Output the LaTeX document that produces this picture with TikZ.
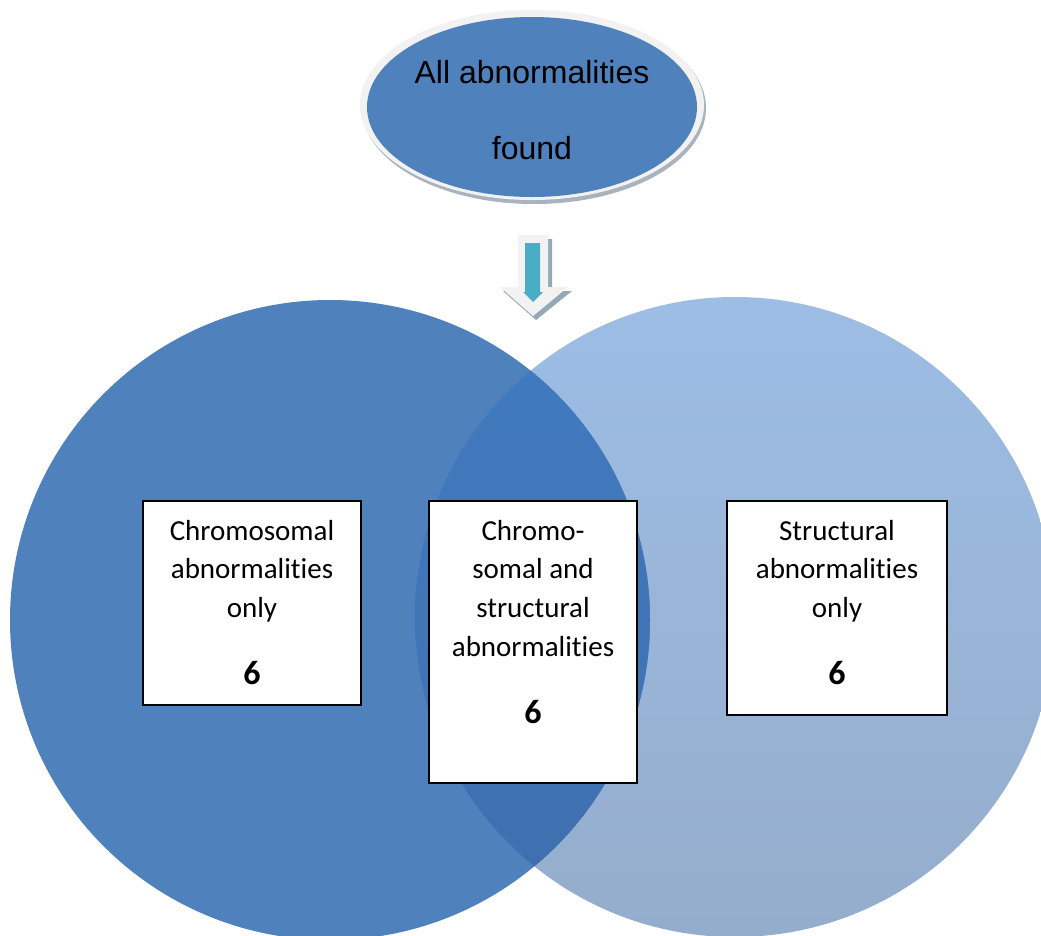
\documentclass[tikz,border=0pt]{standalone}
\usepackage{fontspec}
\usetikzlibrary{shapes.geometric}
\setmainfont[Ligatures=NoCommon]{Carlito}
\newfontfamily\arialfont{Liberation Sans}
\definecolor{leftblue}{HTML}{4F81BD}
\definecolor{righttop}{HTML}{9DBDE5}
\definecolor{rightbot}{HTML}{95ADCC}
\definecolor{ovtop}{HTML}{427BC1}
\definecolor{ovbot}{HTML}{3E6FAE}
\definecolor{ringcol}{HTML}{F2F2F2}
\definecolor{shadowcol}{HTML}{A9B3BD}
\definecolor{arrowteal}{HTML}{4BACC6}
\definecolor{arrowshadow}{HTML}{93AAB6}
\begin{document}
\begin{tikzpicture}[x=1pt,y=-1pt,
  box/.style={draw=black,line width=1.4pt,fill=white,inner sep=0pt},
  boxtext/.style={inner sep=0pt,anchor=base,font=\fontsize{29}{38.7}\selectfont},
]
\useasboundingbox (0,0) rectangle (1041,935);
\fill[white] (0,0) rectangle (1041,935);
% Venn circles
\shade[top color=righttop,bottom color=rightbot] (735,617) circle[radius=320];
\fill[leftblue] (330,620) circle[radius=320];
\begin{scope}
  \clip (330,620) circle[radius=320];
  \shade[top color=ovtop,bottom color=ovbot] (735,617) circle[radius=320];
\end{scope}
% top ellipse
\fill[shadowcol] (534,108) ellipse[x radius=172,y radius=96];
\fill[ringcol] (532,105) ellipse[x radius=172,y radius=95];
\node[ellipse,fill=leftblue,minimum width=330pt,minimum height=180pt,inner sep=0pt] (all) at (532,107) {};
\node[inner sep=0pt,anchor=base,font=\arialfont\fontsize{32}{76}\selectfont] (allt) at (532,83)
  {\begin{tabular}[t]{@{}c@{}}All abnormalities\\found\end{tabular}};
% block arrow
\fill[arrowshadow] (522,239) -- (552,239) -- (552,291) -- (572,291) -- (536,320) -- (503,291) -- (522,291) -- cycle;
\fill[ringcol] (518,235) -- (548,235) -- (548,287) -- (568,287) -- (533,316) -- (500,287) -- (518,287) -- cycle;
\fill[arrowteal] (525,243) -- (540,243) -- (540,292) -- (543,292) -- (533,302) -- (523,292) -- (525,292) -- cycle;
% boxes
\node[box,minimum width=218pt,minimum height=204pt] (lbox) at (252,603) {};
\node[box,minimum width=208pt,minimum height=282pt] (mbox) at (533,642) {};
\node[box,minimum width=220pt,minimum height=214pt] (rbox) at (837,608) {};
\node[boxtext] (ltext) at (252,540) {\begin{tabular}[t]{@{}c@{}}Chromosomal\\abnormalities\\only\\[28.3pt]{\fontsize{34}{38}\selectfont\bfseries 6}\end{tabular}};
\node[boxtext] (mtext) at (533,540) {\begin{tabular}[t]{@{}c@{}}Chromo-\\somal and\\structural\\abnormalities\\[28.3pt]{\fontsize{34}{38}\selectfont\bfseries 6}\end{tabular}};
\node[boxtext] (rtext) at (837,540) {\begin{tabular}[t]{@{}c@{}}Structural\\abnormalities\\only\\[28.3pt]{\fontsize{34}{38}\selectfont\bfseries 6}\end{tabular}};
\end{tikzpicture}
\end{document}
